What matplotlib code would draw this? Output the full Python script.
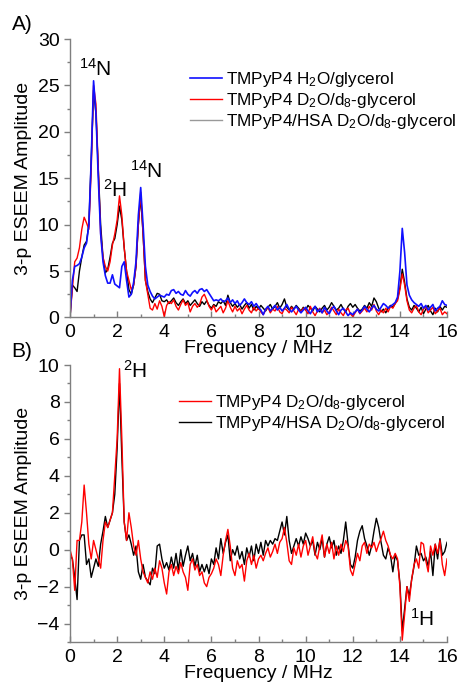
import matplotlib
matplotlib.use("Agg")
import matplotlib.pyplot as plt
import numpy as np

plt.rcParams['font.family'] = ['Liberation Sans', 'DejaVu Sans']
plt.rcParams['mathtext.fontset'] = 'custom'
plt.rcParams['mathtext.rm'] = 'Liberation Sans'
plt.rcParams['mathtext.it'] = 'Liberation Sans'

# frequency grid, 0.1 MHz steps
freq = np.round(np.arange(0, 16.05, 0.1), 1)

# A) three-pulse ESEEM spectra
h2o_glycerol = [
    0.2, 4.0, 5.5, 5.6, 5.8, 6.5, 7.5, 8.0, 10.0, 17.0,
    25.5, 22.0, 15.0, 9.0, 6.0, 4.5, 3.7, 3.7, 4.6, 3.6,
    3.4, 3.2, 5.5, 6.0, 4.0, 2.2, 2.5, 3.8, 6.0, 11.0,
    14.0, 10.0, 5.5, 3.5, 2.8, 2.3, 2.0, 2.2, 2.4, 2.3,
    2.2, 2.5, 2.4, 2.9, 3.0, 2.6, 2.8, 2.5, 2.4, 2.9,
    2.5, 2.3, 2.7, 2.9, 2.6, 3.0, 3.1, 2.8, 3.0, 2.6,
    2.2, 1.8, 1.9, 1.8, 2.0, 1.7, 1.8, 2.1, 1.6, 1.9,
    1.5, 1.8, 1.3, 1.6, 2.0, 1.6, 1.4, 1.7, 1.2, 1.5,
    1.1, 0.8, 0.3, 0.9, 1.2, 0.7, 1.0, 1.3, 0.8, 1.1,
    0.7, 1.0, 1.4, 0.9, 0.6, 0.9, 1.2, 0.8, 0.5, 0.8,
    1.1, 0.7, 0.4, 0.9, 1.2, 0.6, 0.9, 0.5, 1.1, 0.7,
    0.4, 0.9, 1.2, 0.7, 0.3, 0.8, 1.0, 0.6, 0.2, 0.5,
    0.3, 0.6, 0.9, 0.5, 0.8, 1.2, 0.9, 0.6, 1.0, 1.3,
    0.9, 0.7, 1.1, 1.5, 1.3, 1.0, 1.2, 1.4, 1.6, 2.2,
    5.0, 9.6, 7.0, 3.5, 2.4, 1.9, 1.6, 1.4, 1.2, 1.5,
    1.0, 1.3, 0.8, 1.1, 1.4, 0.7, 1.0, 1.2, 1.8, 1.4,
    1.3]

d2o_glycerol = [
    0.1, 3.0, 6.0, 6.4, 7.5, 9.5, 10.8, 10.2, 9.5, 16.0,
    25.0, 23.0, 16.0, 9.0, 6.5, 5.5, 5.0, 6.0, 7.8, 9.0,
    10.5, 13.1, 11.0, 7.5, 5.0, 4.0, 3.0, 3.5, 5.5, 10.0,
    13.5, 9.0, 4.0, 2.5, 1.0, 0.8, 1.5, 0.9, 1.8, 1.2,
    0.1, 1.3, 1.7, 1.5, 1.9, 1.2, 0.8, 1.4, 1.9, 1.3,
    1.6, 0.6, 1.2, 1.5, 1.1, 1.4, 2.2, 2.5, 1.9, 1.2,
    0.8, 1.3, 0.6, 0.9, 1.2, 0.5, 1.0, 1.8, 1.1, 0.6,
    1.2, 0.7, 1.0, 0.4, 0.9, 1.3, 0.8, 0.5, 1.1, 0.7,
    1.0, 0.6, 0.3, 0.8, 1.1, 0.5, 0.9, 0.7, 1.2, 0.6,
    0.4, 1.0, 0.8, 0.5, 1.1, 0.7, 0.3, 0.9, 0.6, 1.0,
    0.8, 0.4, 1.2, 0.6, 0.2, 0.7, 1.0, 0.5, 0.8, 0.3,
    0.6, 1.1, 0.7, 0.3, 0.9, 0.5, 0.2, 0.8, 1.0, 0.4,
    0.1, 0.5, 0.9, 0.4, 0.7, 1.0, 0.6, 1.2, 0.8, 1.4,
    0.7, 0.3, 0.8, 0.5, 1.0, 0.6, 1.2, 1.0, 1.5, 1.8,
    3.0, 4.7, 3.5, 1.8, 0.8, 0.5, 1.0, 1.3, 0.6, 0.3,
    0.9, 1.2, 0.5, 0.8, 1.1, 0.4, 0.7, 1.0, 0.3, 0.6,
    0.4]

hsa_d2o_glycerol = [
    0.0, 3.5, 3.2, 2.8, 5.0, 6.5, 7.8, 8.2, 10.0, 17.0,
    24.5, 22.0, 16.0, 10.0, 6.5, 4.8, 5.2, 6.5, 8.0, 8.5,
    10.0, 12.0, 10.5, 7.5, 5.0, 3.0, 2.5, 3.5, 5.5, 10.0,
    13.0, 9.0, 4.0, 2.8, 2.0, 1.6, 2.1, 2.6, 2.5, 1.8,
    1.7, 1.9, 1.5, 1.8, 2.1, 1.6, 1.3, 1.7, 2.0, 1.5,
    1.8, 1.3, 1.6, 1.9, 1.5, 1.2, 1.7, 1.4, 1.8, 1.3,
    1.0, 1.4, 1.2, 1.7, 1.5, 1.8, 1.3, 2.4, 1.6, 1.2,
    1.5, 1.1, 1.4, 0.9, 1.3, 1.6, 1.0, 1.4, 0.8, 1.2,
    0.9, 1.3, 1.0, 0.7, 1.1, 1.4, 0.9, 1.2, 1.6, 1.0,
    1.4, 2.0, 1.1, 0.8, 1.2, 0.9, 1.3, 1.0, 0.7, 1.1,
    0.8, 1.3, 1.0, 0.7, 1.2, 0.9, 0.6, 1.0, 1.3, 0.8,
    1.1, 1.6, 1.2, 0.8, 1.0, 1.4, 0.9, 0.6, 1.2, 1.5,
    1.1, 1.4, 1.0, 0.7, 0.9, 1.3, 1.0, 1.6, 1.2, 2.1,
    1.7, 1.0, 0.6, 0.9, 0.5, 1.0, 1.3, 1.1, 1.5, 2.0,
    3.2, 5.2, 3.8, 2.0, 1.1, 0.8, 1.3, 1.0, 0.6, 1.1,
    0.4, 0.9, 1.3, 0.7, 0.3, 1.0, 0.6, 1.2, 0.8, 1.2,
    1.1]

# B) spectra after subtraction of the H2O/glycerol reference
d2o_diff = [
    0.0, -0.5, -2.2, 0.5, 0.5, 1.5, 3.5, 2.0, 0.3, -0.5,
    0.5, 0.0, -0.5, -1.0, 0.5, 1.5, 1.2, 1.6, 2.0, 4.0,
    6.0, 9.8, 6.0, 1.5, 0.5, 2.0, 1.2, 0.2, -0.3, 0.5,
    -0.5, -1.2, -1.5, -1.8, -1.2, -1.6, -1.0, -1.5, -0.6, -1.0,
    -1.8, -2.4, -1.2, -0.8, -1.4, -0.9, -1.3, -0.7, -1.2, -1.5,
    -2.2, -0.8, -0.5, -1.1, -0.8, -1.4, -1.2, -1.8, -2.0, -1.5,
    -1.3, -1.0, -0.5, -0.8, -1.4, -0.3, 0.5, 1.1, 0.2, -1.0,
    -1.4, -0.6, -1.0, -0.8, -1.7, -0.6, -0.2, -0.8, -0.3, -1.0,
    -0.5, -0.3, -0.6, -0.2, 0.1, -0.4, -0.1, 0.3, -0.2, 0.4,
    0.6, 1.2, 0.4, -0.6, -0.8, 0.1, -0.3, 0.3, -0.4, 0.2,
    0.5, -0.3, 0.2, 0.7, -0.2, -0.5, 0.2, 0.8, -0.4, 0.3,
    -0.2, 0.4, -0.5, 0.2, -0.3, 0.3, -0.1, 0.5, 0.2, -1.1,
    -1.4, -0.8, -0.2, -0.6, 0.2, 0.4, -0.2, 0.3, 0.1, 0.4,
    -0.1, 0.3, 0.6, 1.0, 0.5, 0.2, -0.3, -0.5, -0.2, -0.5,
    -2.0, -4.9, -3.5, -2.0, -2.8, -1.6, -0.8, -0.5, -1.0, 0.4,
    0.3, -0.6, -1.2, 0.2, -0.3, 0.3, -0.2, 0.5, -0.8, -1.4,
    -0.5]

hsa_diff = [
    -0.3, -0.5, -1.5, -2.7, 0.5, 0.8, 0.8, -0.8, -0.5, -1.5,
    -1.0, -0.5, -0.9, 0.3, 1.0, 1.8, 1.2, 1.6, 2.0, 3.0,
    5.5, 9.0, 5.0, 1.5, 0.5, 0.8, 0.3, -0.3, 0.2, -1.2,
    -1.6, -0.8, -1.5, -1.7, -1.9, -1.0, -1.3, 0.2, 0.3, -0.5,
    -1.0, -0.7, -1.1, -0.4, -1.0, -0.2, -1.1, 0.0, -0.9, -0.3,
    0.2, -0.6, -0.2, -0.9, -0.3, -1.2, -0.8, -1.2, -0.8, -1.3,
    -0.5, -0.8, 0.1, -0.5, 0.6, -0.2, 0.4, 0.8, -0.6, 0.0,
    -0.3, 0.2, -0.5, -0.1, -0.8, 0.1, -0.4, 0.2, -0.6, 0.3,
    -0.2, 0.4, -0.3, 0.5, 0.2, 0.5, 0.3, 0.6, 0.5, 1.0,
    1.5, 0.8, 1.8, 0.5, -0.2, 0.2, 0.6, 0.2, 0.7, 0.3,
    0.9, 0.6, 0.2, 0.5, -0.3, 0.4, 0.0, 0.6, -0.4, 0.3,
    0.7, 0.1, 0.5, -0.3, 0.2, -0.2, 0.5, 1.5, 0.3, -0.8,
    -1.0, -0.4, 0.5, 1.0, 1.3, 0.6, 0.2, -0.3, 0.2, 1.0,
    1.7, 1.2, 0.4, -0.3, -0.5, 0.1, -0.3, -1.2, -0.3, -0.6,
    -1.8, -4.4, -3.2, -2.0, -2.5, -1.6, -0.9, 0.2, -0.3, -0.2,
    -0.6, -0.4, -0.9, -0.1, -1.4, 0.3, -0.5, 0.6, -0.3, -0.1,
    0.4]

lbl_h2o = r"TMPyP4 H$_\mathregular{2}$O/glycerol"
lbl_d2o = r"TMPyP4 D$_\mathregular{2}$O/d$_\mathregular{8}$-glycerol"
lbl_hsa = r"TMPyP4/HSA D$_\mathregular{2}$O/d$_\mathregular{8}$-glycerol"

axis_grey = "#7f7f7f"


def style_axes(ax, ymin, ymax, ymajor, yminor):
    ax.set_xlim(0, 16)
    ax.set_ylim(ymin, ymax)
    ax.set_xticks(np.arange(0, 17, 2))
    ax.set_xticks(np.arange(1, 16, 2), minor=True)
    ax.set_yticks(np.arange(ymin if ymin % ymajor == 0 else ymin + 1, ymax + 0.1, ymajor))
    ax.set_yticks(np.arange(ymin, ymax + 0.1, yminor), minor=True)
    for s in ["top", "right"]:
        ax.spines[s].set_visible(False)
    for s in ["left", "bottom"]:
        ax.spines[s].set_color(axis_grey)
        ax.spines[s].set_linewidth(1.0)
    ax.tick_params(axis="x", which="both", direction="in", colors=axis_grey,
                   labelcolor="black", labelsize=14, pad=5)
    ax.tick_params(axis="y", which="both", direction="out", colors=axis_grey,
                   labelcolor="black", labelsize=14, pad=3)
    ax.tick_params(which="major", length=4.5, width=1)
    ax.tick_params(which="minor", length=2.5, width=1)
    ax.set_xlabel("Frequency / MHz", fontsize=14, labelpad=-1)
    ax.set_ylabel("3-p ESEEM Amplitude", fontsize=14, labelpad=4)


fig = plt.figure(figsize=(4.68, 6.86), dpi=100)
ax1 = fig.add_axes([0.1496, 0.5372, 0.8056, 0.4059])
ax2 = fig.add_axes([0.1496, 0.0641, 0.8056, 0.4038])

# panel A
l_hsa, = ax1.plot(freq, hsa_d2o_glycerol, color="black", lw=1.0)
l_d2o, = ax1.plot(freq, d2o_glycerol, color="#ff0000", lw=1.0)
l_h2o, = ax1.plot(freq, h2o_glycerol, color="#1010ff", lw=1.2)
style_axes(ax1, 0, 30, 5, 2.5)
leg1 = ax1.legend([l_h2o, l_d2o, l_hsa], [lbl_h2o, lbl_d2o, lbl_hsa],
                  loc="upper left", bbox_to_anchor=(0.30, 0.915), frameon=False,
                  fontsize=12.3, handlelength=1.9, handletextpad=0.2,
                  labelspacing=0.12, borderaxespad=0)
leg1.get_lines()[2].set_color("#999999")
ax1.text(1.05, 26.0, r"$^\mathregular{14}$N", fontsize=15, ha="center")
ax1.text(1.9, 13.0, r"$^\mathregular{2}$H", fontsize=15, ha="center")
ax1.text(3.25, 15.0, r"$^\mathregular{14}$N", fontsize=15, ha="center")
fig.text(0.025, 0.964, "A)", fontsize=15, ha="left", va="center")

# panel B
l2_hsa, = ax2.plot(freq, hsa_diff, color="black", lw=1.0)
l2_d2o, = ax2.plot(freq, d2o_diff, color="#ff0000", lw=1.0)
style_axes(ax2, -5, 10, 2, 1)
ax2.legend([l2_d2o, l2_hsa], [lbl_d2o, lbl_hsa],
           loc="upper left", bbox_to_anchor=(0.27, 0.925), frameon=False,
           fontsize=12.3, handlelength=1.9, handletextpad=0.2,
           labelspacing=0.12, borderaxespad=0)
ax2.text(2.75, 9.3, r"$^\mathregular{2}$H", fontsize=15, ha="center")
ax2.text(14.95, -4.1, r"$^\mathregular{1}$H", fontsize=15, ha="center")
fig.text(0.025, 0.487, "B)", fontsize=15, ha="left", va="center")

fig.savefig("out.png", dpi=100)
